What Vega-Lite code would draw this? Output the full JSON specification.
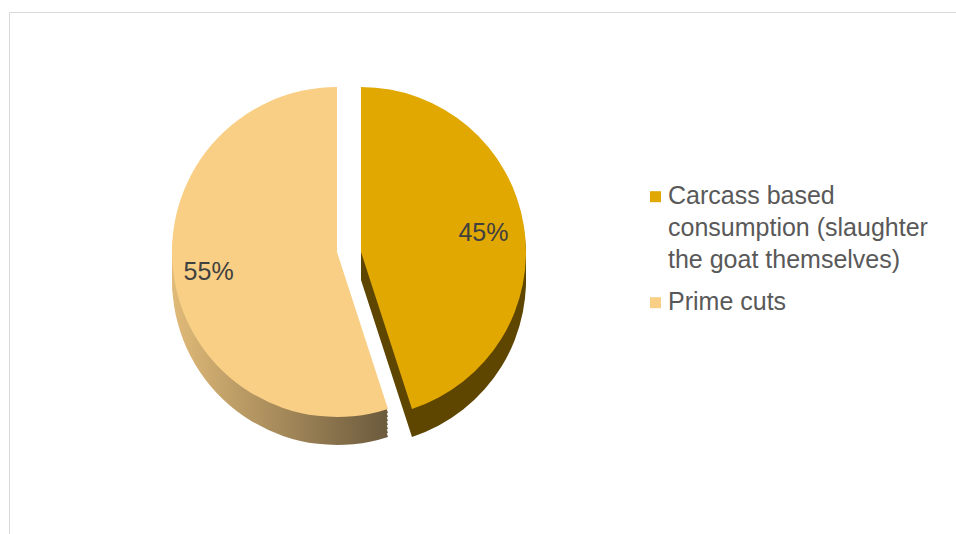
{
  "$schema": "https://vega.github.io/schema/vega-lite/v6.json",
  "width": 960,
  "height": 540,
  "autosize": {"type": "none"},
  "padding": {"left": 9, "top": 12, "right": 0, "bottom": 0},
  "background": "white",
  "config": {"view": {"stroke": "#D9D9D9", "strokeWidth": 1}, "font": "Liberation Sans", "style": {"guide-label": {"lineHeight": 32}}},
  "data": {"values": [
    {"category": "Carcass based consumption (slaughter the goat themselves)", "value": 45, "label": "45%"},
    {"category": "Prime cuts", "value": 55, "label": "55%"}
  ]},
  "transform": [{"stack": "value", "groupby": [], "sort": [{"field": "category", "order": "ascending"}], "as": ["v0", "v1"]}],
  "encoding": {
    "x": {"datum": 340, "type": "quantitative", "scale": {"domain": [0, 960]}, "axis": null},
    "y": {"datum": 240, "type": "quantitative", "scale": {"domain": [0, 540], "reverse": true}, "axis": null},
    "theta": {"field": "v0", "type": "quantitative", "scale": {"domain": [0, 100]}},
    "theta2": {"field": "v1"}
  },
  "layer": [
    {"transform": [{"filter": "datum.category === 'Prime cuts'"}], "mark": {"type": "arc", "radius": 165, "xOffset": -12, "yOffset": 4, "fill": {"gradient": "linear", "x1": 0, "y1": 0, "x2": 1, "y2": 0, "stops": [{"offset": 0, "color": "#E0BA78"}, {"offset": 1, "color": "#6B5A3D"}]}}},
    {"transform": [{"filter": "datum.category === 'Prime cuts'"}], "mark": {"type": "arc", "radius": 165, "xOffset": -12, "yOffset": 8, "fill": {"gradient": "linear", "x1": 0, "y1": 0, "x2": 1, "y2": 0, "stops": [{"offset": 0, "color": "#E0BA78"}, {"offset": 1, "color": "#6B5A3D"}]}}},
    {"transform": [{"filter": "datum.category === 'Prime cuts'"}], "mark": {"type": "arc", "radius": 165, "xOffset": -12, "yOffset": 12, "fill": {"gradient": "linear", "x1": 0, "y1": 0, "x2": 1, "y2": 0, "stops": [{"offset": 0, "color": "#E0BA78"}, {"offset": 1, "color": "#6B5A3D"}]}}},
    {"transform": [{"filter": "datum.category === 'Prime cuts'"}], "mark": {"type": "arc", "radius": 165, "xOffset": -12, "yOffset": 16, "fill": {"gradient": "linear", "x1": 0, "y1": 0, "x2": 1, "y2": 0, "stops": [{"offset": 0, "color": "#E0BA78"}, {"offset": 1, "color": "#6B5A3D"}]}}},
    {"transform": [{"filter": "datum.category === 'Prime cuts'"}], "mark": {"type": "arc", "radius": 165, "xOffset": -12, "yOffset": 20, "fill": {"gradient": "linear", "x1": 0, "y1": 0, "x2": 1, "y2": 0, "stops": [{"offset": 0, "color": "#E0BA78"}, {"offset": 1, "color": "#6B5A3D"}]}}},
    {"transform": [{"filter": "datum.category === 'Prime cuts'"}], "mark": {"type": "arc", "radius": 165, "xOffset": -12, "yOffset": 24, "fill": {"gradient": "linear", "x1": 0, "y1": 0, "x2": 1, "y2": 0, "stops": [{"offset": 0, "color": "#E0BA78"}, {"offset": 1, "color": "#6B5A3D"}]}}},
    {"transform": [{"filter": "datum.category === 'Prime cuts'"}], "mark": {"type": "arc", "radius": 165, "xOffset": -12, "yOffset": 28, "fill": {"gradient": "linear", "x1": 0, "y1": 0, "x2": 1, "y2": 0, "stops": [{"offset": 0, "color": "#E0BA78"}, {"offset": 1, "color": "#6B5A3D"}]}}},
    {"transform": [{"filter": "datum.category !== 'Prime cuts'"}], "mark": {"type": "arc", "radius": 165, "xOffset": 12, "yOffset": 4, "fill": "#5E4500"}},
    {"transform": [{"filter": "datum.category !== 'Prime cuts'"}], "mark": {"type": "arc", "radius": 165, "xOffset": 12, "yOffset": 8, "fill": "#5E4500"}},
    {"transform": [{"filter": "datum.category !== 'Prime cuts'"}], "mark": {"type": "arc", "radius": 165, "xOffset": 12, "yOffset": 12, "fill": "#5E4500"}},
    {"transform": [{"filter": "datum.category !== 'Prime cuts'"}], "mark": {"type": "arc", "radius": 165, "xOffset": 12, "yOffset": 16, "fill": "#5E4500"}},
    {"transform": [{"filter": "datum.category !== 'Prime cuts'"}], "mark": {"type": "arc", "radius": 165, "xOffset": 12, "yOffset": 20, "fill": "#5E4500"}},
    {"transform": [{"filter": "datum.category !== 'Prime cuts'"}], "mark": {"type": "arc", "radius": 165, "xOffset": 12, "yOffset": 24, "fill": "#5E4500"}},
    {"transform": [{"filter": "datum.category !== 'Prime cuts'"}], "mark": {"type": "arc", "radius": 165, "xOffset": 12, "yOffset": 28, "fill": "#5E4500"}},
    {"transform": [{"filter": "datum.category === 'Prime cuts'"}], "mark": {"type": "arc", "radius": 165, "xOffset": -12}, "encoding": {
      "color": {"field": "category", "type": "nominal", "scale": {"domain": ["Carcass based consumption (slaughter the goat themselves)", "Prime cuts"], "range": ["#E0A800", "#F9CF85"]},
        "legend": {"title": null, "orient": "none", "legendX": 634, "legendY": 159, "padding": 0, "symbolType": "M-1,1.4H1V3.4H-1Z", "symbolSize": 121, "symbolStrokeWidth": 0, "labelFontSize": 25, "labelColor": "#595959", "labelFont": "Liberation Sans", "labelLimit": 400, "labelBaseline": "top", "labelOffset": 0, "rowPadding": 4, "labelExpr": "datum.label === 'Prime cuts' ? datum.label : ['Carcass based', 'consumption (slaughter', 'the goat themselves)']"}}
    }},
    {"transform": [{"filter": "datum.category !== 'Prime cuts'"}], "mark": {"type": "arc", "radius": 165, "xOffset": 12}, "encoding": {
      "color": {"field": "category", "type": "nominal"}
    }},
    {"mark": {"type": "text", "radius": 124, "xOffset": 12, "fontSize": 25, "font": "Liberation Sans", "color": "#404040"}, "encoding": {
      "theta": {"field": "value", "type": "quantitative", "stack": true},
      "theta2": null,
      "text": {"condition": {"test": "datum.category !== 'Prime cuts'", "field": "label"}, "value": ""}
    }},
    {"mark": {"type": "text", "radius": 130, "xOffset": -12, "fontSize": 25, "font": "Liberation Sans", "color": "#404040"}, "encoding": {
      "theta": {"field": "value", "type": "quantitative", "stack": true},
      "theta2": null,
      "text": {"condition": {"test": "datum.category === 'Prime cuts'", "field": "label"}, "value": ""}
    }}
  ]
}
